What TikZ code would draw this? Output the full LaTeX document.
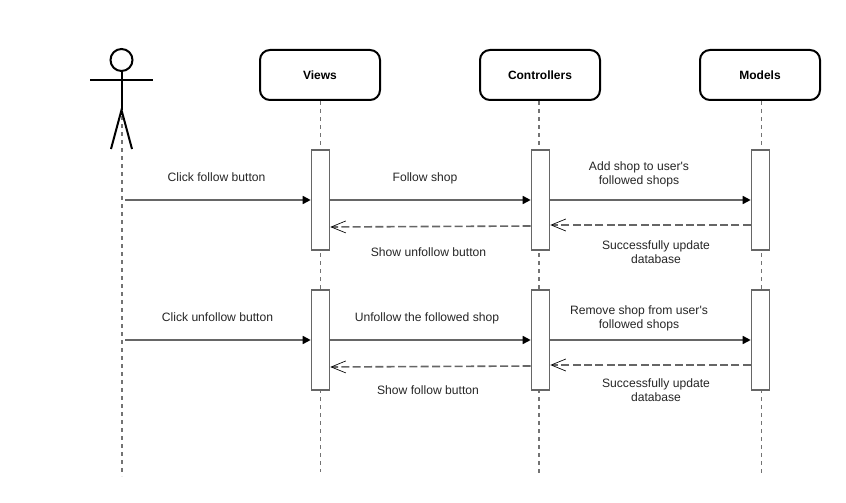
\documentclass[tikz,border=0pt]{standalone}
\usepackage{fontspec}
\setmainfont{Liberation Sans}[Ligatures=TeXOff]
\usetikzlibrary{arrows.meta}
\tikzset{
  px/.style={x=0.75pt,y=-0.75pt},
  txt/.style={font=\fontsize{9.1}{10.5}\selectfont,text=black!85,align=center,inner sep=0pt},
  head/.style={draw=black,line width=1.5pt,rounded corners=7.5pt,fill=white,minimum width=90pt,minimum height=37.5pt,inner sep=0pt,font=\fontsize{9}{10.5}\selectfont\bfseries},
  act/.style={draw=black!60,line width=1.2pt,fill=white,minimum width=13.5pt,minimum height=75pt,inner sep=0pt},
  life/.style={draw=black!55,line width=1.2pt,dash pattern=on 3pt off 3pt},
  call/.style={draw=black!60,line width=1.2pt,-{Triangle[length=6pt,width=6pt,color=black]}},
  ret/.style={draw=black!60,line width=1.2pt,dash pattern=on 6pt off 2.5pt,-{Straight Barb[length=11pt,width=9pt,line width=0.5pt,color=black]}},
  figure/.style={draw=black,line width=1.5pt}
}
\begin{document}
\begin{tikzpicture}[px]
\useasboundingbox (0,0) rectangle (846,503);
\fill[white] (0,0) rectangle (846,503);
% lifeline ends
\coordinate (actorTop) at (122,116);
\coordinate (actorEnd) at (122,476);
\coordinate (viewsEnd) at (320.5,472);
\coordinate (ctrlEnd) at (539,475);
\coordinate (modelEnd) at (761.5,475);
% heads
\node[head] (views) at (320,75) {Views};
\node[head] (ctrl) at (540,75) {Controllers};
\node[head] (model) at (760,75) {Models};
% lifelines
\draw[life] (actorTop) -- (actorEnd);
\draw[life] (views.south -| viewsEnd) -- (viewsEnd);
\draw[life] (ctrl.south -| ctrlEnd) -- (ctrlEnd);
\draw[life] (model.south -| modelEnd) -- (modelEnd);
% actor
\node[draw=black,line width=1.5pt,circle,minimum size=16.5pt,inner sep=0pt] (ahead) at (121.5,60) {};
\coordinate (armL) at (90,80);
\coordinate (armR) at (153,80);
\coordinate (hip) at (121.5,110);
\coordinate (legL) at (111,149);
\coordinate (legR) at (132,149);
\draw[figure] (ahead.south) -- (hip);
\draw[figure] (armL) -- (armR);
\draw[figure] (legL) -- (hip) -- (legR);
% activations
\node[act] (v1) at (320.5,200) {};
\node[act] (c1) at (540.5,200) {};
\node[act] (m1) at (760.5,200) {};
\node[act] (v2) at (320.5,340) {};
\node[act] (c2) at (540.5,340) {};
\node[act] (m2) at (760.5,340) {};
\coordinate (a1) at (125,200);
\coordinate (a2) at (125,340);
% messages, first group
\draw[call] (a1) -- (v1.west);
\draw[call] (v1.east) -- (c1.west);
\draw[call] (c1.east) -- (m1.west);
\draw[ret] ([yshift=-18.75pt]m1.west) -- ([yshift=-18.75pt]c1.east);
\draw[ret] ([yshift=-19.5pt]c1.west) -- ([yshift=-20.25pt]v1.east);
% messages, second group
\draw[call] (a2) -- (v2.west);
\draw[call] (v2.east) -- (c2.west);
\draw[call] (c2.east) -- (m2.west);
\draw[ret] ([yshift=-18.75pt]m2.west) -- ([yshift=-18.75pt]c2.east);
\draw[ret] ([yshift=-19.5pt]c2.west) -- ([yshift=-20.25pt]v2.east);
% labels
\node[txt] (t1) at (216.5,177) {Click follow button};
\node[txt] (t2) at (425,178) {Follow shop};
\node[txt] (t3) at (639,174) {Add shop to user's\\followed shops};
\node[txt] (t4) at (428.5,252) {Show unfollow button};
\node[txt] (t5) at (656,252) {Successfully update\\database};
\node[txt] (t6) at (217.5,317) {Click unfollow button};
\node[txt] (t7) at (427,318) {Unfollow the followed shop};
\node[txt] (t8) at (639,318) {Remove shop from user's\\followed shops};
\node[txt] (t9) at (428,390) {Show follow button};
\node[txt] (t10) at (656,390) {Successfully update\\database};
\end{tikzpicture}
\end{document}
